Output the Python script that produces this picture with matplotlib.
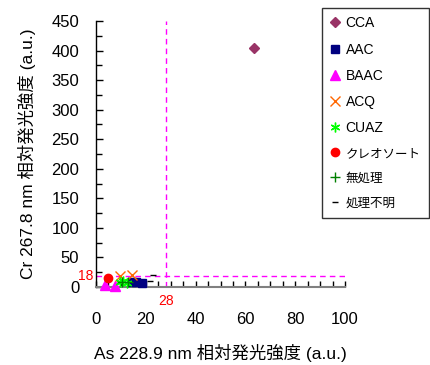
import matplotlib
matplotlib.use("Agg")
import matplotlib.pyplot as plt
from matplotlib.ticker import MultipleLocator

plt.rcParams['font.family'] = ['Liberation Sans', 'Noto Sans CJK JP', 'DejaVu Sans']

series_names = ['CCA', 'AAC', 'BAAC', 'ACQ', 'CUAZ', 'クレオソート', '無処理', '処理不明']
cca_x = [63.5]; cca_y = [404]
aac_x = [14.5, 16.0, 18.5]; aac_y = [8, 9, 6]
baac_x = [3.5, 7.5]; baac_y = [4, 2]
acq_x = [9.5, 14.5]; acq_y = [18, 21]
cuaz_x = [9.5, 11.0, 12.5]; cuaz_y = [8, 10, 7]
creo_x = [4.8]; creo_y = [15]
none_x = [10.5, 13.0]; none_y = [9, 8]
unk_x = [21.5, 23.0]; unk_y = [10, 20]
thr_x = 28
thr_y = 18
x_ticks = [0, 20, 40, 60, 80, 100]
y_ticks = [0, 50, 100, 150, 200, 250, 300, 350, 400, 450]

fig = plt.figure(figsize=(4.3, 3.65), dpi=100)
ax = fig.add_axes([96/430, 1-287/365, (345-96)/430, (287-21)/365])

styles = [
    (cca_x, cca_y, dict(marker='D', color='#993366', ms=5, ls='none')),
    (aac_x, aac_y, dict(marker='s', color='#000080', ms=6, ls='none')),
    (baac_x, baac_y, dict(marker='^', color='#FF00FF', ms=7.5, ls='none')),
    (acq_x, acq_y, dict(marker='x', color='#FF6600', ms=7, mew=1, ls='none')),
    (cuaz_x, cuaz_y, dict(marker=(6, 2, 0), color='#00FF00', ms=7, mew=1, ls='none')),
    (creo_x, creo_y, dict(marker='o', color='#FF0000', ms=6, ls='none')),
    (none_x, none_y, dict(marker='+', color='#008000', ms=7, mew=1, ls='none')),
    (unk_x, unk_y, dict(marker='_', color='#000000', ms=5, mew=1, ls='none')),
]
handles = []
for (xs, ys, kw), name in zip(styles, series_names):
    h, = ax.plot(xs, ys, label=name, clip_on=False, zorder=3, **kw)
    handles.append(h)

ax.axvline(thr_x, color='#FF00FF', ls=(0, (4, 3)), lw=1, zorder=2)
ax.axhline(thr_y, color='#FF00FF', ls=(0, (4, 3)), lw=1, zorder=2)

ax.set_xlim(0, 100)
ax.set_ylim(0, 450)
ax.set_xticks(x_ticks)
ax.set_yticks(y_ticks)
ax.xaxis.set_minor_locator(MultipleLocator(5))
ax.yaxis.set_minor_locator(MultipleLocator(25))

for s in ['top', 'right']:
    ax.spines[s].set_visible(False)
ax.spines['left'].set_color('black')
ax.spines['left'].set_linewidth(1)
ax.spines['bottom'].set_color('#808080')
ax.spines['bottom'].set_linewidth(1.5)

ax.tick_params(axis='y', which='major', direction='in', length=5, width=1, labelsize=12, pad=12)
ax.tick_params(axis='y', which='minor', direction='in', length=4, width=1)
ax.tick_params(axis='x', which='major', direction='in', length=4, width=1, labelsize=12, pad=18)
ax.tick_params(axis='x', which='minor', direction='in', length=4, width=1)

ax.text(-1.0, thr_y, str(thr_y), color='#FF0000', fontsize=10, ha='right', va='center')
ax.text(thr_x, -12, str(thr_x), color='#FF0000', fontsize=10, ha='center', va='top')

ax.set_xlabel('As 228.9 nm 相対発光強度 (a.u.)', fontsize=12.5, labelpad=12)
ax.set_ylabel('Cr 267.8 nm 相対発光強度 (a.u.)', fontsize=12.5, labelpad=11)

leg = fig.legend(handles=handles, loc='upper left', bbox_to_anchor=(322/430, 1-8/365),
                 frameon=True, fancybox=False, edgecolor='black', fontsize=10,
                 labelspacing=0.88, handlelength=0.6, handletextpad=0.5, borderpad=0.6,
                 borderaxespad=0)
leg.get_frame().set_linewidth(1)
for t in leg.get_texts():
    if not t.get_text().isascii():
        t.set_fontsize(9)

fig.savefig('out.png', dpi=100)
